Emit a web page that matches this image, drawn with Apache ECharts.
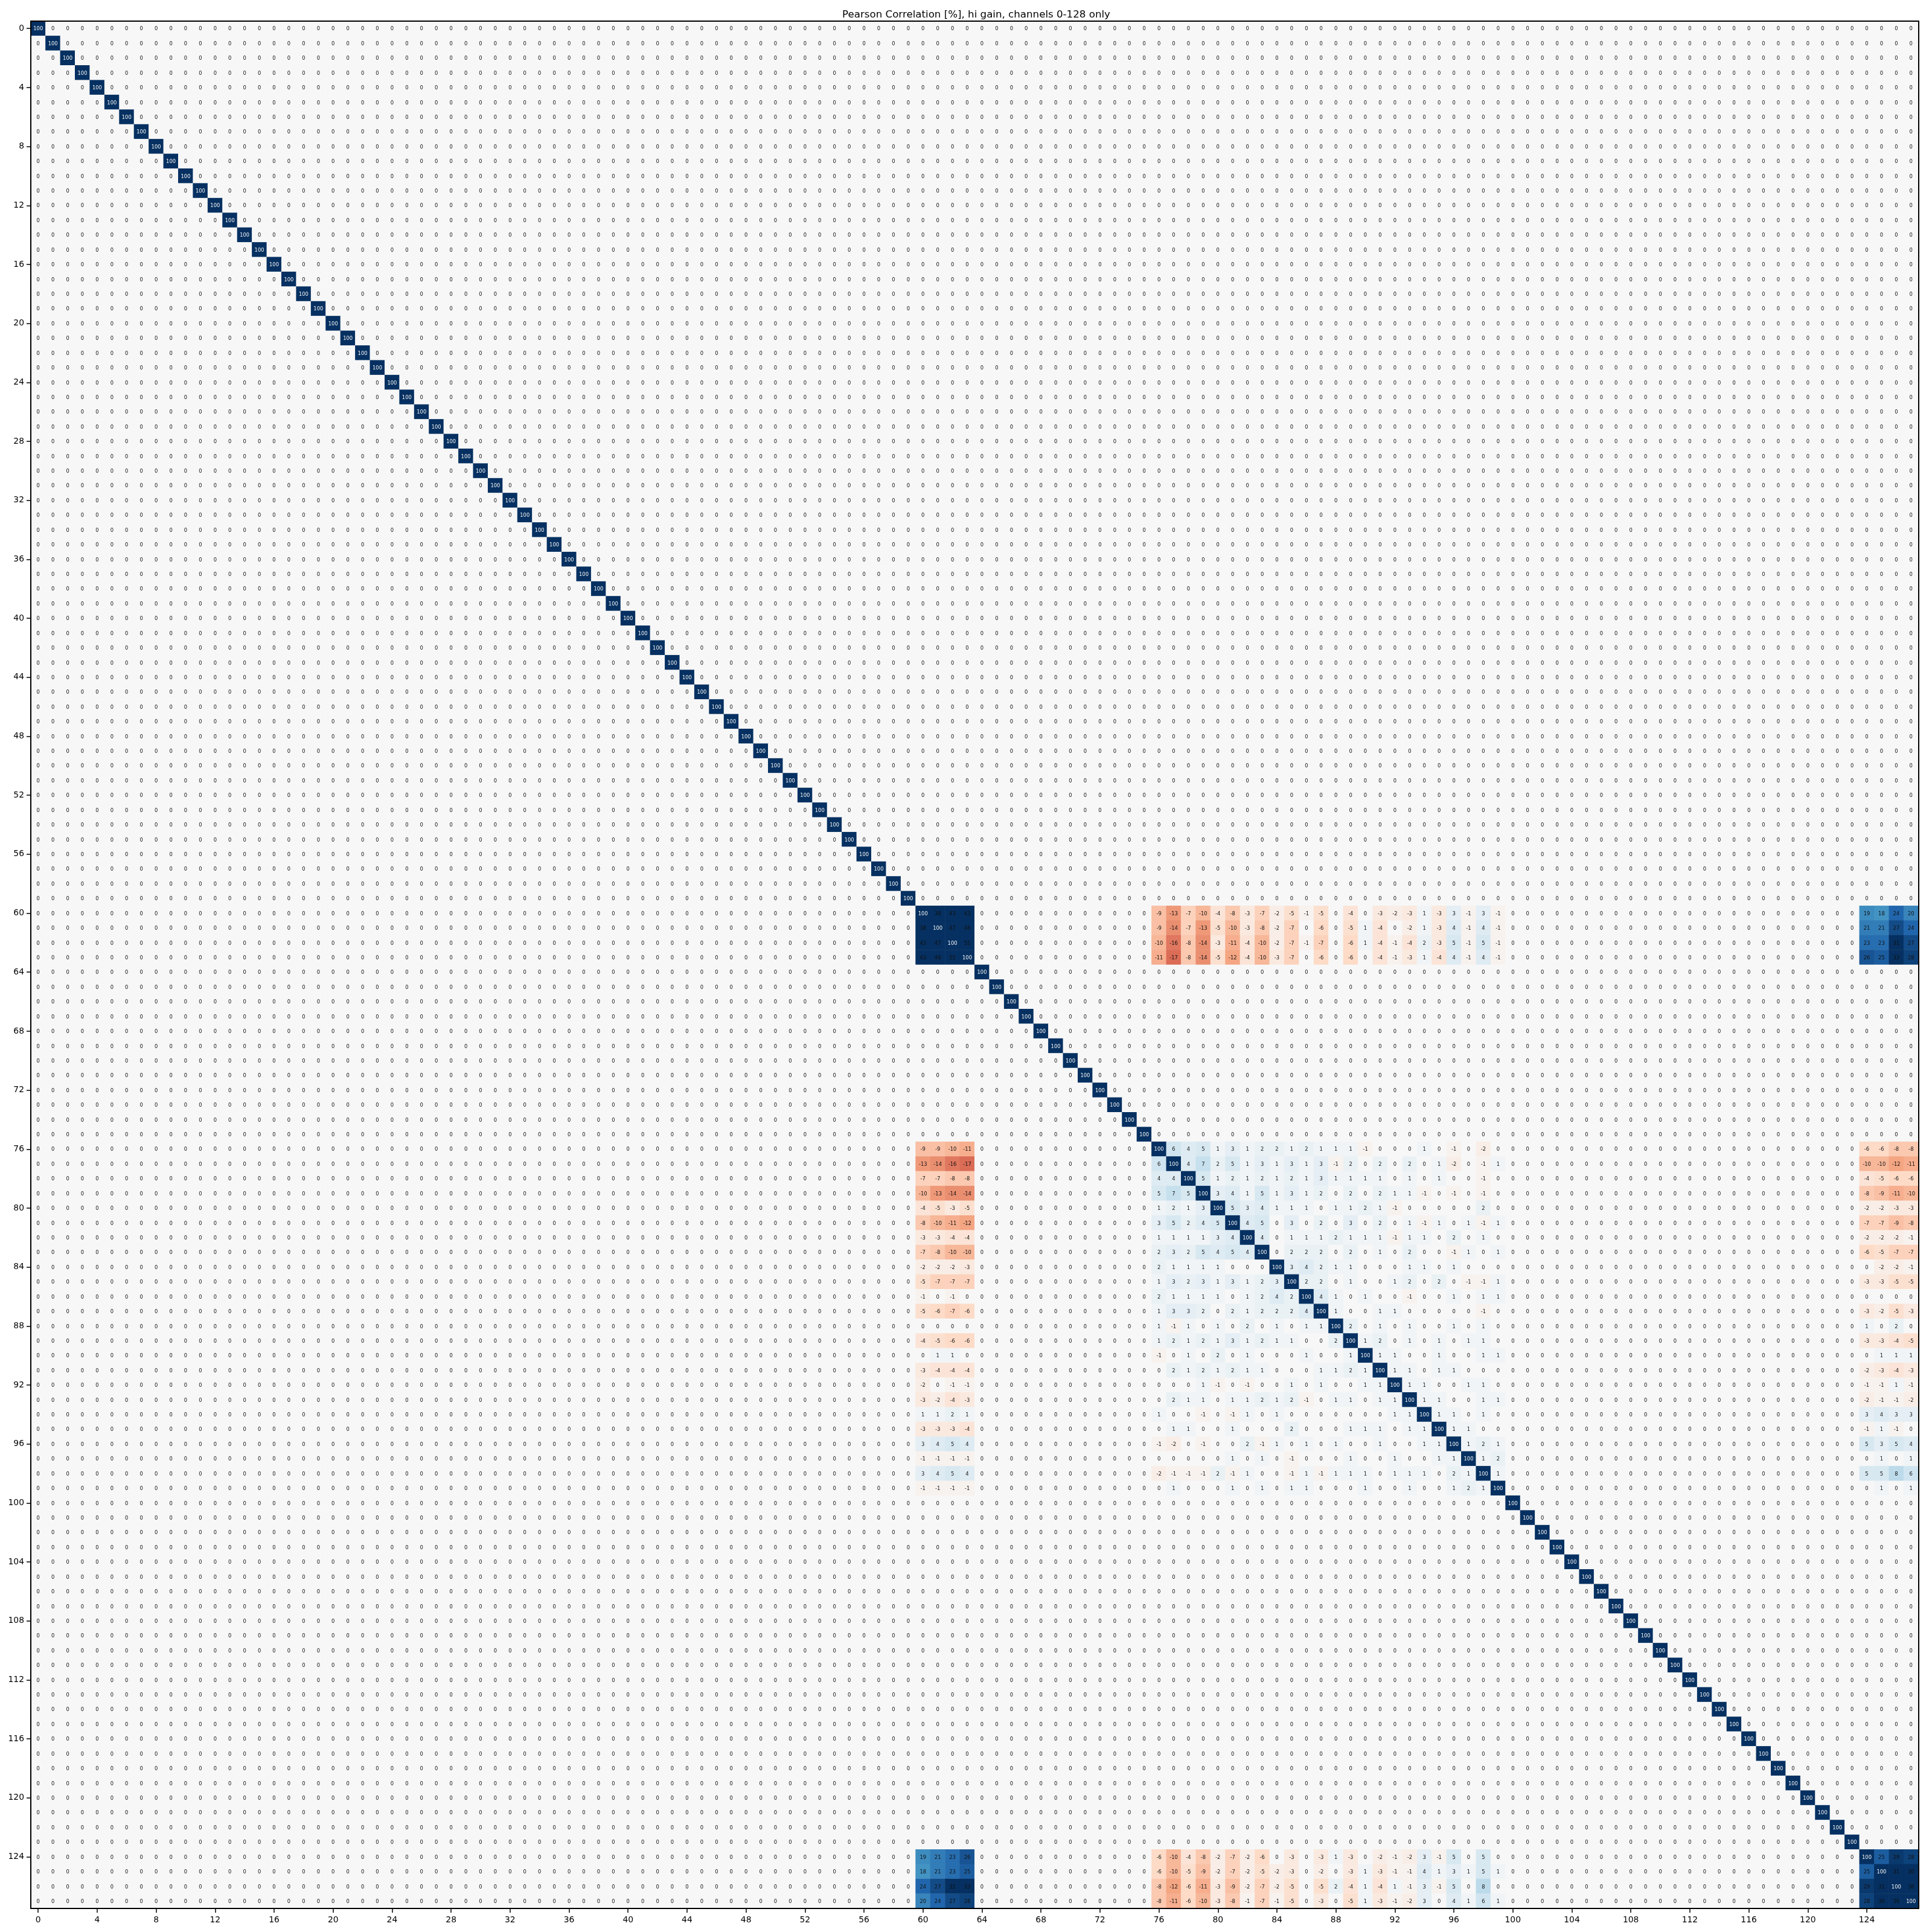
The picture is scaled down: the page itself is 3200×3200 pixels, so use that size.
<!DOCTYPE html>
<html>
<head>
<meta charset="utf-8">
<title>Pearson Correlation</title>
<script src="https://cdn.jsdelivr.net/npm/echarts@6/dist/echarts.min.js"></script>
<style>
    html, body { margin: 0; padding: 0; background: #fff; }
    #main { width: 3200px; height: 3200px; }
</style>
</head>
<body>
<div id="main"></div>
<script>
var titleText = 'Pearson Correlation [%], hi gain, channels 0-128 only';
var channelCount = 128;

// RdBu, clipped at +-30
var rdBu = ['#67001f', '#b2182b', '#d6604d', '#f4a582', '#fddbc7', '#f7f7f7', '#d1e5f0', '#92c5de', '#4393c3', '#2166ac', '#053061'];

// first channel of each correlated group
var startA = 60;
var startB = 76;
var startB2 = 88;
var startC = 124;

// rows 60-63, cols 60-63
var corrAA = [
    [100, 38, 43, 43],
    [38, 100, 47, 48],
    [43, 47, 100, 55],
    [43, 48, 55, 100]
];
// rows 60-63, cols 124-127
var corrAC = [
    [19, 18, 24, 20],
    [21, 21, 27, 24],
    [23, 23, 31, 27],
    [26, 25, 33, 28]
];
// rows 124-127, cols 124-127
var corrCC = [
    [100, 25, 29, 28],
    [25, 100, 31, 30],
    [29, 31, 100, 36],
    [28, 30, 36, 100]
];
// rows 76-99, cols 60-63
var corrBA = [
    [-9, -9, -10, -11],
    [-13, -14, -16, -17],
    [-7, -7, -8, -8],
    [-10, -13, -14, -14],
    [-4, -5, -3, -5],
    [-8, -10, -11, -12],
    [-3, -3, -4, -4],
    [-7, -8, -10, -10],
    [-2, -2, -2, -3],
    [-5, -7, -7, -7],
    [-1, 0, -1, 0],
    [-5, -6, -7, -6],
    [0, 0, 0, 0],
    [-4, -5, -6, -6],
    [0, 1, 1, 0],
    [-3, -4, -4, -4],
    [-2, 0, -1, -1],
    [-3, -2, -4, -3],
    [1, 1, 2, 1],
    [-3, -3, -3, -4],
    [3, 4, 5, 4],
    [-1, -1, -1, -1],
    [3, 4, 5, 4],
    [-1, -1, -1, -1]
];
// rows 76-99, cols 124-127
var corrBC = [
    [-6, -6, -8, -8],
    [-10, -10, -12, -11],
    [-4, -5, -6, -6],
    [-8, -9, -11, -10],
    [-2, -2, -3, -3],
    [-7, -7, -9, -8],
    [-2, -2, -2, -1],
    [-6, -5, -7, -7],
    [0, -2, -2, -1],
    [-3, -3, -5, -5],
    [0, 0, 0, 0],
    [-3, -2, -5, -3],
    [1, 0, 2, 0],
    [-3, -3, -4, -5],
    [0, 1, 1, 1],
    [-2, -3, -4, -3],
    [-1, -1, 1, -1],
    [-2, -1, -1, -2],
    [3, 4, 3, 3],
    [-1, 1, -1, 0],
    [5, 3, 5, 4],
    [0, 1, 0, 1],
    [5, 5, 8, 6],
    [0, 1, 0, 1]
];
// rows 76-87, cols 76-87
var corrBB = [
    [100, 6, 4, 5, 1, 3, 1, 2, 2, 1, 2, 1],
    [6, 100, 4, 7, 2, 5, 1, 3, 1, 3, 1, 3],
    [4, 4, 100, 5, 1, 2, 1, 2, 1, 2, 1, 3],
    [5, 7, 5, 100, 3, 4, 1, 5, 1, 3, 1, 2],
    [1, 2, 1, 3, 100, 5, 3, 4, 1, 1, 1, 0],
    [3, 5, 2, 4, 5, 100, 4, 5, 0, 3, 0, 2],
    [1, 1, 1, 1, 3, 4, 100, 4, 0, 1, 1, 1],
    [2, 3, 2, 5, 4, 5, 4, 100, 0, 2, 2, 2],
    [2, 1, 1, 1, 1, 0, 0, 0, 100, 3, 4, 2],
    [1, 3, 2, 3, 1, 3, 1, 2, 3, 100, 2, 2],
    [2, 1, 1, 1, 1, 0, 1, 2, 4, 2, 100, 4],
    [1, 3, 3, 2, 0, 2, 1, 2, 2, 2, 4, 100]
];
// rows 88-99, cols 76-87
var corrB2B = [
    [1, -1, 1, 0, 1, 0, 2, 0, 1, 0, 1, 1],
    [1, 2, 1, 2, 1, 3, 1, 2, 1, 1, 0, 0],
    [-1, 0, 1, 0, 2, 0, 1, 0, 0, 0, 1, 0],
    [0, 2, 1, 2, 1, 2, 1, 1, 0, 0, 0, 1],
    [0, 0, 0, 1, -1, 0, -1, 0, 0, 1, 0, 1],
    [0, 2, 1, 1, 0, 1, 1, 2, 1, 2, -1, 0],
    [1, 0, 0, -1, 0, -1, 1, 0, 1, 0, 0, 0],
    [0, 1, 1, 0, 0, 1, 0, 0, 0, 2, 0, 0],
    [-1, -2, 0, -1, 0, 0, 2, -1, 1, 0, 1, 0],
    [0, 0, 0, 0, 0, 1, 0, 1, 0, -1, 0, 0],
    [-2, -1, -1, -1, 2, -1, 1, 0, 0, -1, 1, -1],
    [0, 1, 0, 0, 0, 1, 0, 1, 0, 1, 1, 0]
];
// rows 88-99, cols 88-99 (rough, hard to read)
var corrB2B2 = [
    [100, 2, 0, 1, 0, 1, 0, 0, 1, 0, 1, 0],
    [2, 100, 1, 2, 0, 1, 0, 1, 0, 1, 1, 0],
    [0, 1, 100, 1, 1, 0, 0, 1, 0, 0, 1, 1],
    [1, 2, 1, 100, 1, 1, 0, 1, 1, 0, 0, 0],
    [0, 0, 1, 1, 100, 1, 1, 0, 0, 1, 1, 0],
    [1, 1, 0, 1, 1, 100, 1, 1, 0, 0, 1, 1],
    [0, 0, 0, 0, 1, 1, 100, 1, 1, 0, 1, 0],
    [0, 1, 1, 1, 0, 1, 1, 100, 1, 1, 0, 0],
    [1, 0, 0, 1, 0, 0, 1, 1, 100, 1, 2, 1],
    [0, 1, 0, 0, 1, 0, 0, 1, 1, 100, 1, 2],
    [1, 1, 1, 0, 1, 1, 1, 0, 2, 1, 100, 1],
    [0, 0, 1, 0, 0, 1, 0, 0, 1, 2, 1, 100]
];

var channels = [];
var matrix = [];
for (var i = 0; i < channelCount; i++) {
    channels.push(String(i));
    matrix.push([]);
    for (var j = 0; j < channelCount; j++) {
        matrix[i].push(i == j ? 100 : 0);
    }
}

// copy a block in, plus its mirror image
function putBlock(rowStart, colStart, block) {
    for (var r = 0; r < block.length; r++) {
        for (var c = 0; c < block[r].length; c++) {
            matrix[rowStart + r][colStart + c] = block[r][c];
            matrix[colStart + c][rowStart + r] = block[r][c];
        }
    }
}
putBlock(startA, startA, corrAA);
putBlock(startA, startC, corrAC);
putBlock(startC, startC, corrCC);
putBlock(startB, startA, corrBA);
putBlock(startB, startC, corrBC);
putBlock(startB, startB, corrBB);
putBlock(startB2, startB, corrB2B);
putBlock(startB2, startB2, corrB2B2);

var heatData = [];
for (var y = 0; y < channelCount; y++) {
    for (var x = 0; x < channelCount; x++) {
        var v = matrix[y][x];
        heatData.push({
            value: [x, y, v],
            label: { color: v == 100 ? '#f2f2f2' : '#111' }
        });
    }
}

var fontName = '"DejaVu Sans"';
var chart = echarts.init(document.getElementById('main'), null, { renderer: 'canvas' });
var option = {
    animation: false,
    backgroundColor: '#fff',
    textStyle: { fontFamily: fontName },
    title: {
        text: titleText,
        left: 1612,
        top: 11,
        textAlign: 'center',
        textStyle: { fontFamily: fontName, fontSize: 16.67, fontWeight: 'normal', color: '#000' }
    },
    grid: { left: 51, top: 35, width: 3126.5, height: 3126 },
    xAxis: [{
        type: 'category',
        data: channels,
        position: 'bottom',
        z: 5,
        splitArea: { show: false },
        splitLine: { show: false },
        axisLine: { show: true, onZero: false, lineStyle: { color: '#000', width: 2 } },
        axisTick: { show: true, alignWithLabel: true, interval: 3, length: 7, lineStyle: { color: '#000', width: 1.5 } },
        axisLabel: { show: true, interval: 3, fontSize: 13.9, color: '#000', margin: 12, fontFamily: fontName }
    }, {
        type: 'category',
        data: channels,
        position: 'top',
        z: 5,
        axisLine: { show: true, onZero: false, lineStyle: { color: '#000', width: 2 } },
        axisTick: { show: false },
        axisLabel: { show: false }
    }],
    yAxis: [{
        type: 'category',
        data: channels,
        inverse: true,
        position: 'left',
        z: 5,
        splitArea: { show: false },
        splitLine: { show: false },
        axisLine: { show: true, onZero: false, lineStyle: { color: '#000', width: 2 } },
        axisTick: { show: true, alignWithLabel: true, interval: 3, length: 7, lineStyle: { color: '#000', width: 1.5 } },
        axisLabel: { show: true, interval: 3, fontSize: 13.9, color: '#000', margin: 11, fontFamily: fontName }
    }, {
        type: 'category',
        data: channels,
        inverse: true,
        position: 'right',
        z: 5,
        axisLine: { show: true, onZero: false, lineStyle: { color: '#000', width: 2 } },
        axisTick: { show: false },
        axisLabel: { show: false }
    }],
    visualMap: {
        show: false,
        type: 'continuous',
        dimension: 2,
        min: -30,
        max: 30,
        inRange: { color: rdBu },
        outOfRange: { color: '#053061' }
    },
    series: [{
        type: 'heatmap',
        data: heatData,
        progressive: 0,
        emphasis: { disabled: true },
        itemStyle: { borderWidth: 0 },
        label: { show: true, fontSize: 8.4, fontFamily: fontName, offset: [0, 1], formatter: function (p) { return p.value[2]; } }
    }]
};
chart.setOption(option);
</script>
</body>
</html>
